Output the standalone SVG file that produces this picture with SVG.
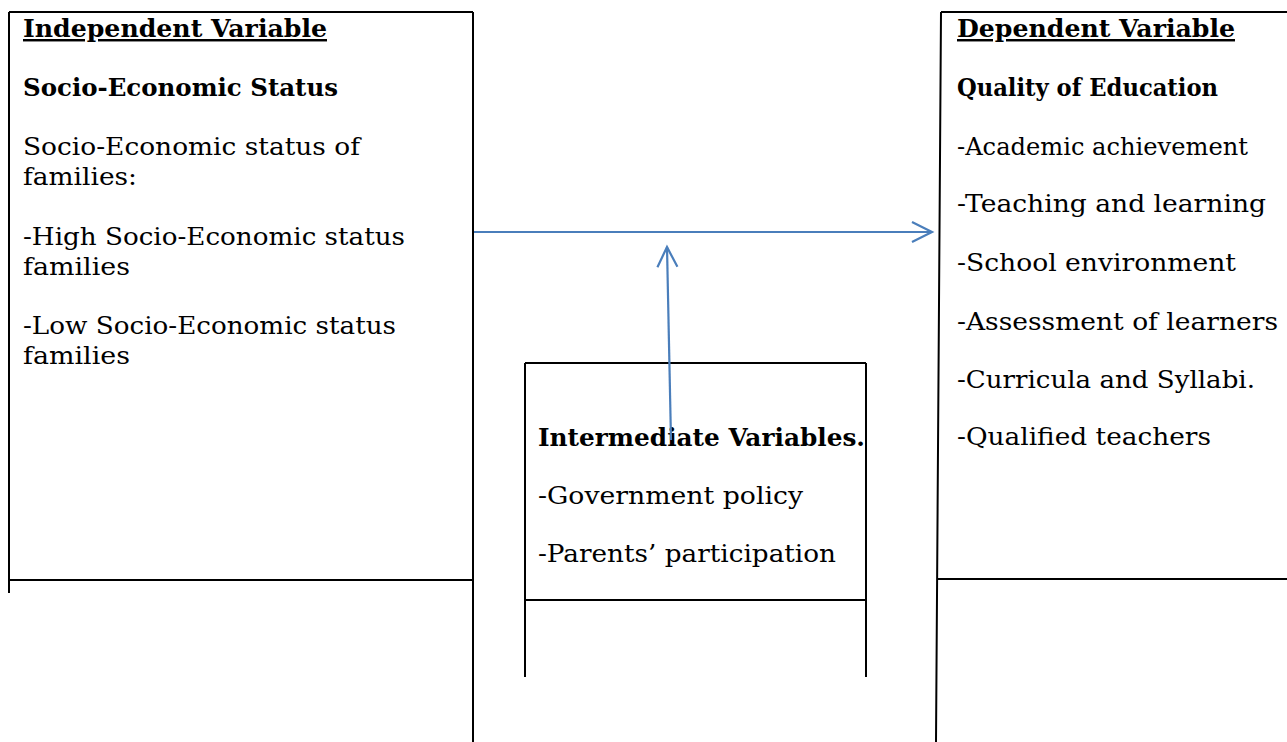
<svg xmlns="http://www.w3.org/2000/svg" width="1287" height="742" viewBox="0 0 1287 742">
<style>
.ln{stroke:#000;stroke-width:2;fill:none}
.t{font-family:"DejaVu Serif","Liberation Serif",serif;font-size:24.5px;fill:#000}
.b{font-weight:bold}
.u{text-decoration:underline}
.c{stroke:#4a7ebb;stroke-width:2.2;fill:none}
</style>
<defs>
<marker id="ah" markerUnits="userSpaceOnUse" markerWidth="24" markerHeight="24" viewBox="0 0 24 24" refX="21" refY="12" orient="auto">
<path d="M1,2 L21,12 L1,22" stroke="#4a7ebb" stroke-width="2.2" fill="none"/>
</marker>
</defs>
<rect width="1287" height="742" fill="#fff"/>
<g id="independent">
<path class="ln" d="M9,12 H473 M9,12 V593 M473,12 V742 M9,580 H473"/>
<text class="t b u" x="23" y="37" textLength="304" lengthAdjust="spacingAndGlyphs">Independent Variable</text>
<text class="t b" x="23" y="96" textLength="315" lengthAdjust="spacingAndGlyphs">Socio-Economic Status</text>
<text class="t" x="23" y="155" textLength="337" lengthAdjust="spacingAndGlyphs">Socio-Economic status of</text>
<text class="t" x="23" y="185" textLength="114" lengthAdjust="spacingAndGlyphs">families:</text>
<text class="t" x="23" y="245" textLength="382" lengthAdjust="spacingAndGlyphs">-High Socio-Economic status</text>
<text class="t" x="23" y="275" textLength="107" lengthAdjust="spacingAndGlyphs">families</text>
<text class="t" x="23" y="334" textLength="373" lengthAdjust="spacingAndGlyphs">-Low Socio-Economic status</text>
<text class="t" x="23" y="364" textLength="107" lengthAdjust="spacingAndGlyphs">families</text>
</g>
<g id="dependent">
<path class="ln" d="M941,12 H1287 M941,12 L936,742 M937,579 H1287"/>
<text class="t b u" x="957" y="37" textLength="278" lengthAdjust="spacingAndGlyphs">Dependent Variable</text>
<text class="t b" x="957" y="96" textLength="261" lengthAdjust="spacingAndGlyphs">Quality of Education</text>
<text class="t" x="957" y="155" textLength="291" lengthAdjust="spacingAndGlyphs">-Academic achievement</text>
<text class="t" x="957" y="212" textLength="309" lengthAdjust="spacingAndGlyphs">-Teaching and learning</text>
<text class="t" x="957" y="271" textLength="279" lengthAdjust="spacingAndGlyphs">-School environment</text>
<text class="t" x="957" y="330" textLength="321" lengthAdjust="spacingAndGlyphs">-Assessment of learners</text>
<text class="t" x="957" y="388" textLength="298" lengthAdjust="spacingAndGlyphs">-Curricula and Syllabi.</text>
<text class="t" x="957" y="445" textLength="254" lengthAdjust="spacingAndGlyphs">-Qualified teachers</text>
</g>
<g id="intermediate">
<path class="ln" d="M525,363 H866 M525,363 V677 M866,363 V677 M525,600 H866"/>
<text class="t b" x="538" y="446" textLength="327" lengthAdjust="spacingAndGlyphs">Intermediate Variables.</text>
<text class="t" x="538" y="504" textLength="265" lengthAdjust="spacingAndGlyphs">-Government policy</text>
<text class="t" x="538" y="562" textLength="298" lengthAdjust="spacingAndGlyphs">-Parents’ participation</text>
</g>
<g id="connectors">
<line class="c" x1="474" y1="232" x2="932" y2="232" marker-end="url(#ah)"/>
<line class="c" x1="671" y1="440" x2="667" y2="247" marker-end="url(#ah)"/>
</g>
</svg>
